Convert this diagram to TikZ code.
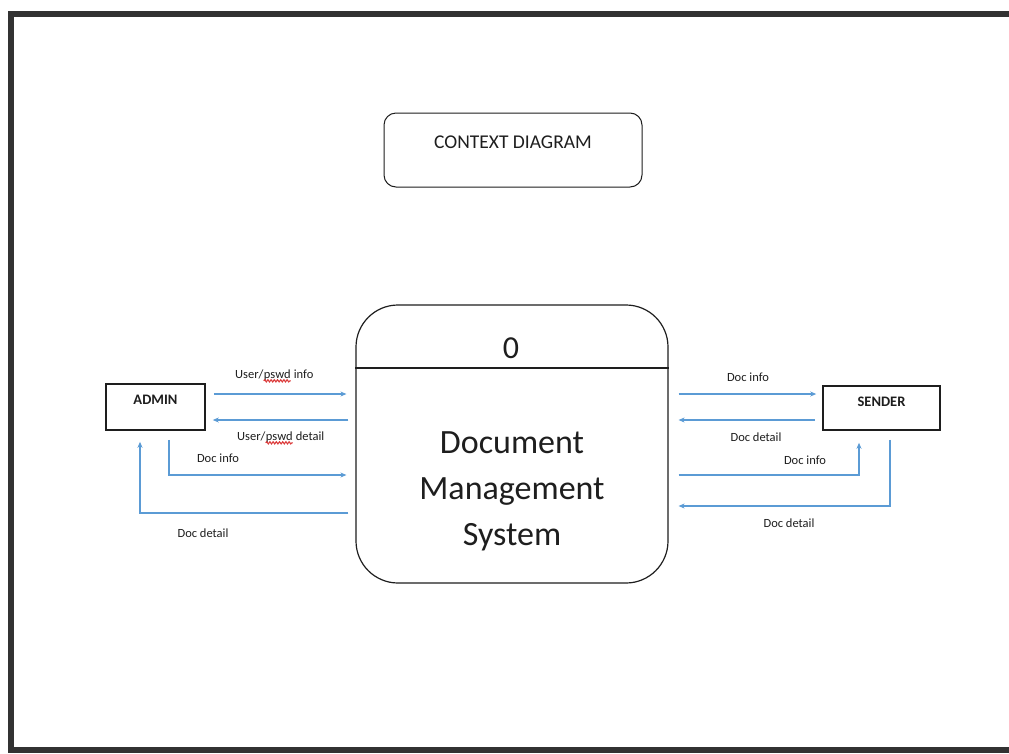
\documentclass[tikz,border=0pt]{standalone}
\usepackage{fontspec}
\setmainfont{Carlito}
\usetikzlibrary{arrows.meta,decorations.pathmorphing}

\definecolor{flowblue}{RGB}{91,155,213}
\definecolor{framegray}{RGB}{50,50,50}
\definecolor{inkgray}{RGB}{30,30,30}
\definecolor{spellred}{RGB}{220,60,60}

\tikzset{
  frameline/.style={draw=framegray, line width=6pt, line join=miter},
  titlebox/.style={draw=inkgray, line width=1pt, rounded corners=12pt,
    minimum width=258pt, minimum height=74pt, inner sep=0pt},
  process/.style={draw=inkgray, line width=1.2pt, rounded corners=42pt,
    minimum width=312pt, minimum height=278pt, inner sep=0pt},
  entity/.style={draw=inkgray, line width=1.6pt, inner sep=0pt},
  entitytext/.style={font=\bfseries\fontsize{14.5}{18}\selectfont, text=inkgray, inner sep=0pt},
  flow/.style={draw=flowblue, line width=1.3pt, -{Stealth[length=6pt, width=5pt]}},
  flowlabel/.style={font=\fontsize{12.5}{15}\selectfont, text=inkgray, inner sep=0pt},
  spellmark/.style={draw=spellred, line width=1.1pt,
    decorate, decoration={snake, amplitude=1.1pt, segment length=3.2pt}},
}

\begin{document}
\begin{tikzpicture}[x=1pt, y=-1pt]
  \useasboundingbox (0,0) rectangle (1009,753);
  \fill[white] (0,0) rectangle (1009,753);

  % page frame: open on the right side
  \draw[frameline] (1009,14) -- (10.5,14) -- (10.5,750) -- (1009,750);

  % title box
  \node[titlebox, label={[font=\fontsize{19.5}{22}\selectfont, text=inkgray, inner sep=0pt, yshift=8pt]center:CONTEXT DIAGRAM}]
    (title) at (513,150) {};

  % central process
  \node[process] (proc) at (512,444) {};
  \draw[draw=inkgray, line width=1.2pt] (proc.west |- 0,368) -- (proc.east |- 0,368);
  \node[font=\fontsize{32}{36}\selectfont, text=inkgray, inner sep=0pt] (procnum) at (511,348) {0};
  \node[font=\fontsize{34}{46}\selectfont, text=inkgray, align=center, inner sep=0pt]
    (procname) at (512,491) {Document\\Management\\System};

  % external entities
  \node[entity, minimum width=99pt, minimum height=46pt,
    label={[entitytext, yshift=7pt]center:ADMIN}] (admin) at (155.5,407) {};
  \node[entity, minimum width=117pt, minimum height=44pt,
    label={[entitytext, yshift=6pt]center:SENDER}] (sender) at (881.5,408) {};

  % flows between ADMIN and the process
  \draw[flow] ([xshift=8pt]admin.east |- 0,394) -- ([xshift=-9pt]proc.west |- 0,394);
  \draw[flow] ([xshift=-7pt]proc.west |- 0,420) -- ([xshift=7pt]admin.east |- 0,420);
  \draw[flow] ([yshift=-9pt]admin.south -| 169,0) |- ([xshift=-9pt]proc.west |- 0,475);
  \draw[flow] ([xshift=-7pt]proc.west |- 0,513) -| ([yshift=-11pt]admin.south -| 140,0);

  % labels with the underlined word set as its own piece
  \node[flowlabel, anchor=base west] (adm1a) at (235,378) {User/};
  \node[flowlabel, anchor=base west] (adm1b) at (adm1a.base east) {pswd};
  \node[flowlabel, anchor=base west] (adm1c) at (adm1b.base east) {\ info};
  \draw[spellmark] ([yshift=-2.8pt]adm1b.base west) -- ([yshift=-2.8pt]adm1b.base east);

  \node[flowlabel, anchor=base west] (adm2a) at (237,440) {User/};
  \node[flowlabel, anchor=base west] (adm2b) at (adm2a.base east) {pswd};
  \node[flowlabel, anchor=base west] (adm2c) at (adm2b.base east) {\ detail};
  \draw[spellmark] ([yshift=-2.8pt]adm2b.base west) -- ([yshift=-2.8pt]adm2b.base east);

  \node[flowlabel] (adm3) at (218,458) {Doc info};
  \node[flowlabel] (adm4) at (203,533) {Doc detail};

  % flows between the process and SENDER
  \draw[flow] ([xshift=10pt]proc.east |- 0,394) -- ([xshift=-6pt]sender.west |- 0,394);
  \draw[flow] ([xshift=-7pt]sender.west |- 0,420) -- ([xshift=10pt]proc.east |- 0,420);
  \draw[flow] ([xshift=10pt]proc.east |- 0,475) -| ([yshift=-12pt]sender.south -| 859,0);
  \draw[flow] ([yshift=-9pt]sender.south -| 890,0) |- ([xshift=10pt]proc.east |- 0,506);

  \node[flowlabel] (snd1) at (748,377) {Doc info};
  \node[flowlabel] (snd2) at (756,437) {Doc detail};
  \node[flowlabel] (snd3) at (805,460) {Doc info};
  \node[flowlabel] (snd4) at (789,523) {Doc detail};
\end{tikzpicture}
\end{document}
